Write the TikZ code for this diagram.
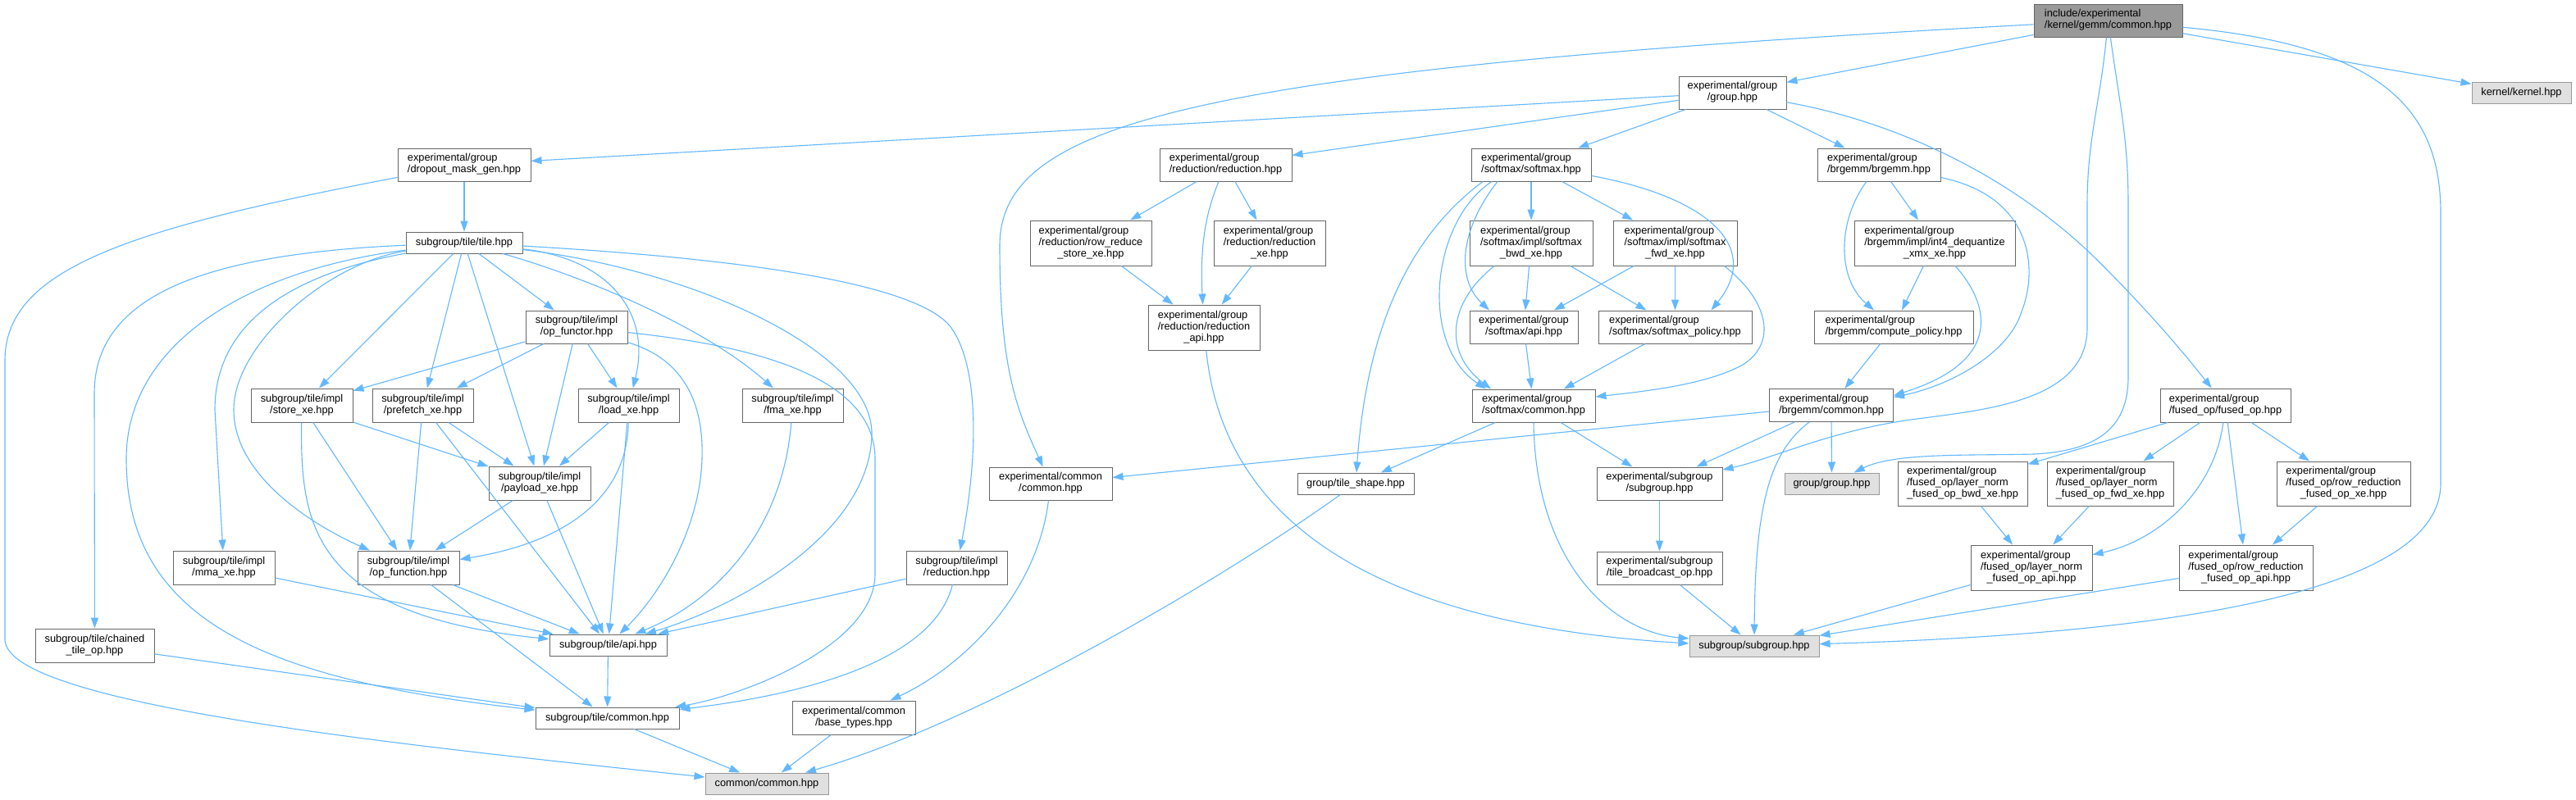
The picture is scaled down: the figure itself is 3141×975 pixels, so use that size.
\documentclass[tikz,border=0pt]{standalone}
\usepackage{fontspec}
\setmainfont{Liberation Sans}
\usetikzlibrary{arrows.meta}
\definecolor{bord}{HTML}{666666}
\definecolor{extbord}{HTML}{999999}
\definecolor{extfill}{HTML}{E0E0E0}
\definecolor{rootfill}{HTML}{999999}
\definecolor{edgec}{HTML}{63B8FF}
\newcommand{\twol}[2]{\begin{tabular}{@{}l@{}}#1\\\multicolumn{1}{@{}c@{}}{#2}\end{tabular}}
\newcommand{\thrl}[3]{\begin{tabular}{@{}l@{}}#1\\#2\\\multicolumn{1}{@{}c@{}}{#3}\end{tabular}}
\tikzset{
  nd/.style={draw=bord, fill=white, line width=1pt, inner sep=0pt,
    font=\fontsize{12.8}{14}\selectfont, align=center},
  ext/.style={nd, draw=extbord, fill=extfill},
  rootnd/.style={nd, fill=rootfill},
  e/.style={draw=edgec, line width=1.1pt, -{Triangle[length=13pt,width=9pt]}},
}
\begin{document}
\begin{tikzpicture}[x=1pt,y=-1pt]
\useasboundingbox[fill=white] (0,0) rectangle (3141,975);

% ---------- nodes ----------
\node[rootnd, minimum width=181pt, minimum height=40pt] (root) at (2570.5,25) {\twol{include/experimental}{/kernel/gemm/common.hpp}};
\node[ext, minimum width=121pt, minimum height=26pt] (kernel) at (3074.5,113) {kernel/kernel.hpp};
\node[nd, minimum width=131pt, minimum height=40pt] (group) at (2112.5,113) {\twol{experimental/group}{/group.hpp}};
\node[nd, minimum width=162pt, minimum height=40pt] (dropout) at (566,201) {\twol{experimental/group}{/dropout\_mask\_gen.hpp}};
\node[nd, minimum width=161pt, minimum height=40pt] (reduction) at (1494.5,201) {\twol{experimental/group}{/reduction/reduction.hpp}};
\node[nd, minimum width=146pt, minimum height=40pt] (softmax) at (1867,201) {\twol{experimental/group}{/softmax/softmax.hpp}};
\node[nd, minimum width=150pt, minimum height=40pt] (brgemm) at (2291,201) {\twol{experimental/group}{/brgemm/brgemm.hpp}};
\node[nd, minimum width=142pt, minimum height=26pt] (tile) at (566,296) {subgroup/tile/tile.hpp};
\node[nd, minimum width=148pt, minimum height=55pt] (rowreduce) at (1330,296.5) {\thrl{experimental/group}{/reduction/row\_reduce}{\_store\_xe.hpp}};
\node[nd, minimum width=136pt, minimum height=55pt] (reductionxe) at (1548,296.5) {\thrl{experimental/group}{/reduction/reduction}{\_xe.hpp}};
\node[nd, minimum width=150pt, minimum height=55pt] (bwd) at (1867,296.5) {\thrl{experimental/group}{/softmax/impl/softmax}{\_bwd\_xe.hpp}};
\node[nd, minimum width=151pt, minimum height=55pt] (fwd) at (2042.5,296.5) {\thrl{experimental/group}{/softmax/impl/softmax}{\_fwd\_xe.hpp}};
\node[nd, minimum width=196pt, minimum height=55pt] (int4) at (2359,296.5) {\thrl{experimental/group}{/brgemm/impl/int4\_dequantize}{\_xmx\_xe.hpp}};
\node[nd, minimum width=124pt, minimum height=40pt] (opfunctor) at (703,399) {\twol{subgroup/tile/impl}{/op\_functor.hpp}};
\node[nd, minimum width=136pt, minimum height=55pt] (redapi) at (1468,399.5) {\thrl{experimental/group}{/reduction/reduction}{\_api.hpp}};
\node[nd, minimum width=132pt, minimum height=40pt] (smapi) at (1858,399) {\twol{experimental/group}{/softmax/api.hpp}};
\node[nd, minimum width=187pt, minimum height=40pt] (smpolicy) at (2042.5,399) {\twol{experimental/group}{/softmax/softmax\_policy.hpp}};
\node[nd, minimum width=194pt, minimum height=40pt] (cpolicy) at (2309,399) {\twol{experimental/group}{/brgemm/compute\_policy.hpp}};
\node[nd, minimum width=124pt, minimum height=41pt] (store) at (368,494.5) {\twol{subgroup/tile/impl}{/store\_xe.hpp}};
\node[nd, minimum width=123pt, minimum height=41pt] (prefetch) at (515.5,494.5) {\twol{subgroup/tile/impl}{/prefetch\_xe.hpp}};
\node[nd, minimum width=123pt, minimum height=41pt] (load) at (766.5,494.5) {\twol{subgroup/tile/impl}{/load\_xe.hpp}};
\node[nd, minimum width=123pt, minimum height=41pt] (fma) at (966.5,494.5) {\twol{subgroup/tile/impl}{/fma\_xe.hpp}};
\node[nd, minimum width=150pt, minimum height=40pt] (smcommon) at (1870,495) {\twol{experimental/group}{/softmax/common.hpp}};
\node[nd, minimum width=151pt, minimum height=40pt] (brgcommon) at (2233,494.5) {\twol{experimental/group}{/brgemm/common.hpp}};
\node[nd, minimum width=159pt, minimum height=41pt] (fusedop) at (2713.5,494.5) {\twol{experimental/group}{/fused\_op/fused\_op.hpp}};
\node[nd, minimum width=150pt, minimum height=40pt] (expcommon) at (1281,590) {\twol{experimental/common}{/common.hpp}};
\node[nd, minimum width=142pt, minimum height=26pt] (tileshape) at (1653,590) {group/tile\_shape.hpp};
\node[nd, minimum width=153pt, minimum height=40pt] (expsubgroup) at (2023.5,590) {\twol{experimental/subgroup}{/subgroup.hpp}};
\node[ext, minimum width=115pt, minimum height=26pt] (groupgroup) at (2233.5,590) {group/group.hpp};
\node[nd, minimum width=158pt, minimum height=54pt] (lnbwd) at (2393,590) {\thrl{experimental/group}{/fused\_op/layer\_norm}{\_fused\_op\_bwd\_xe.hpp}};
\node[nd, minimum width=154pt, minimum height=54pt] (lnfwd) at (2573,590) {\thrl{experimental/group}{/fused\_op/layer\_norm}{\_fused\_op\_fwd\_xe.hpp}};
\node[nd, minimum width=163pt, minimum height=54pt] (rrxe) at (2857.5,590) {\thrl{experimental/group}{/fused\_op/row\_reduction}{\_fused\_op\_xe.hpp}};
\node[nd, minimum width=124pt, minimum height=41pt] (payload) at (658,589.5) {\twol{subgroup/tile/impl}{/payload\_xe.hpp}};
\node[nd, minimum width=124pt, minimum height=41pt] (opfunction) at (498,692.5) {\twol{subgroup/tile/impl}{/op\_function.hpp}};
\node[nd, minimum width=124pt, minimum height=41pt] (mma) at (273,692.5) {\twol{subgroup/tile/impl}{/mma\_xe.hpp}};
\node[nd, minimum width=123pt, minimum height=41pt] (tilered) at (1166.5,692.5) {\twol{subgroup/tile/impl}{/reduction.hpp}};
\node[nd, minimum width=153pt, minimum height=40pt] (tilebc) at (2023.5,693) {\twol{experimental/subgroup}{/tile\_broadcast\_op.hpp}};
\node[nd, minimum width=148pt, minimum height=55pt] (lnapi) at (2477,692.5) {\thrl{experimental/group}{/fused\_op/layer\_norm}{\_fused\_op\_api.hpp}};
\node[nd, minimum width=163pt, minimum height=55pt] (rrapi) at (2738.5,692.5) {\thrl{experimental/group}{/fused\_op/row\_reduction}{\_fused\_op\_api.hpp}};
\node[nd, minimum width=145pt, minimum height=41pt] (chained) at (115.5,787.5) {\twol{subgroup/tile/chained}{\_tile\_op.hpp}};
\node[nd, minimum width=143pt, minimum height=26pt] (api) at (741.5,787) {subgroup/tile/api.hpp};
\node[ext, minimum width=158pt, minimum height=26pt] (subgroup) at (2139,788) {subgroup/subgroup.hpp};
\node[nd, minimum width=175pt, minimum height=26pt] (tilecommon) at (740.5,876) {subgroup/tile/common.hpp};
\node[nd, minimum width=150pt, minimum height=41pt] (basetypes) at (1041,875.5) {\twol{experimental/common}{/base\_types.hpp}};
\node[ext, minimum width=150pt, minimum height=26pt] (commoncommon) at (935,956) {common/common.hpp};

% ---------- edges ----------
% root
\draw[e] (root) -- (group);
\draw[e] (root) -- (kernel);
\draw[e] (root) .. controls (1450,85) and (1219,150) .. (1219,300) .. controls (1219,450) and (1240,500) .. (expcommon);
\draw[e] (root) .. controls (2900,55) and (2976,130) .. (2976,260) -- (2976,590) .. controls (2976,700) and (2750,770) .. (subgroup);
\draw[e] (root) .. controls (2560,130) and (2545,170) .. (2545,250) -- (2545,400) .. controls (2545,490) and (2420,500) .. (2330,512) .. controls (2230,526) and (2160,560) .. (expsubgroup);
\draw[e] (root) .. controls (2585,130) and (2595,170) .. (2595,250) -- (2595,460) .. controls (2595,520) and (2560,550) .. (2480,554) .. controls (2400,556) and (2310,552) .. (groupgroup);
% group
\draw[e] (group) -- (dropout);
\draw[e] (group) -- (reduction);
\draw[e] (group) -- (softmax);
\draw[e] (group) -- (brgemm);
\draw[e] (group) .. controls (2320,150) and (2460,220) .. (2560,320) .. controls (2630,390) and (2670,440) .. (fusedop);
% dropout
\draw[e] (dropout) -- (tile);
\draw[e] (dropout) .. controls (150,280) and (6,330) .. (6,440) -- (6,780) .. controls (6,860) and (500,910) .. (commoncommon);
% tile
\draw[e] (tile) .. controls (250,310) and (115,360) .. (115,480) -- (chained);
\draw[e] (tile) .. controls (300,330) and (154,420) .. (154,560) .. controls (154,760) and (330,830) .. (tilecommon);
\draw[e] (tile) .. controls (380,330) and (262,380) .. (262,500) -- (mma);
\draw[e] (tile) .. controls (400,320) and (285,420) .. (285,500) .. controls (285,580) and (380,640) .. (opfunction);
\draw[e] (tile) -- (store);
\draw[e] (tile) -- (prefetch);
\draw[e] (tile) -- (payload);
\draw[e] (tile) -- (opfunctor);
\draw[e] (tile) .. controls (740,315) and (795,380) .. (load);
\draw[e] (tile) .. controls (720,340) and (860,400) .. (fma);
\draw[e] (tile) .. controls (850,330) and (1065,430) .. (1063,530) .. controls (1061,650) and (900,740) .. (api);
\draw[e] (tile) .. controls (900,315) and (1120,345) .. (1160,400) .. controls (1195,450) and (1192,560) .. (tilered);
% op_functor
\draw[e] (opfunctor) -- (store);
\draw[e] (opfunctor) -- (prefetch);
\draw[e] (opfunctor) -- (payload);
\draw[e] (opfunctor) -- (load);
\draw[e] (opfunctor) .. controls (840,440) and (858,500) .. (856,560) .. controls (853,650) and (800,730) .. (api);
\draw[e] (opfunctor) .. controls (950,425) and (1067,470) .. (1067,560) -- (1067,700) .. controls (1067,790) and (900,850) .. (tilecommon);
% store / prefetch / load / fma
\draw[e] (store) -- (payload);
\draw[e] (store) -- (opfunction);
\draw[e] (store) .. controls (366,640) and (380,750) .. (api);
\draw[e] (prefetch) -- (payload);
\draw[e] (prefetch) -- (opfunction);
\draw[e] (prefetch) -- (api);
\draw[e] (load) -- (payload);
\draw[e] (load) .. controls (765,600) and (700,660) .. (opfunction);
\draw[e] (load) -- (api);
\draw[e] (fma) .. controls (955,640) and (880,730) .. (api);
% payload / op_function / mma / chained / api
\draw[e] (payload) -- (opfunction);
\draw[e] (payload) -- (api);
\draw[e] (opfunction) -- (api);
\draw[e] (opfunction) -- (tilecommon);
\draw[e] (mma) -- (api);
\draw[e] (chained) -- (tilecommon);
\draw[e] (api) -- (tilecommon);
\draw[e] (tilecommon) -- (commoncommon);
\draw[e] (tilered) -- (api);
\draw[e] (tilered) .. controls (1140,800) and (1000,845) .. (tilecommon);
% reduction
\draw[e] (reduction) -- (rowreduce);
\draw[e] (reduction) -- (reductionxe);
\draw[e] (reduction) .. controls (1470,260) and (1463,300) .. (redapi);
\draw[e] (rowreduce) -- (redapi);
\draw[e] (reductionxe) -- (redapi);
\draw[e] (redapi) .. controls (1490,620) and (1650,760) .. ([yshift=3pt]subgroup.west);
% softmax
\draw[e] (softmax) -- (bwd);
\draw[e] (softmax) -- (fwd);
\draw[e] ([xshift=-41pt]softmax.south) .. controls (1780,280) and (1775,340) .. ([xshift=-42pt]smapi.north);
\draw[e] ([xshift=-48pt]softmax.south) .. controls (1745,270) and (1730,420) .. ([xshift=-58pt]smcommon.north);
\draw[e] ([xshift=-59pt]softmax.south) .. controls (1730,280) and (1668,380) .. (tileshape);
\draw[e] (softmax) .. controls (2080,240) and (2150,300) .. ([xshift=44pt]smpolicy.north);
\draw[e] (bwd) -- (smapi);
\draw[e] (bwd) -- (smpolicy);
\draw[e] ([xshift=-45pt]bwd.south) .. controls (1765,370) and (1760,430) .. ([xshift=-52pt]smcommon.north);
\draw[e] (fwd) -- (smapi);
\draw[e] (fwd) -- (smpolicy);
\draw[e] ([xshift=60pt]fwd.south) .. controls (2160,370) and (2165,420) .. (2125,445) .. controls (2080,470) and (2000,478) .. ([yshift=11pt]smcommon.east);
\draw[e] (smapi) -- (smcommon);
\draw[e] (smpolicy) -- (smcommon);
\draw[e] (smcommon) -- (tileshape);
\draw[e] (smcommon) -- (expsubgroup);
\draw[e] (smcommon.south) .. controls (1872,680) and (1960,770) .. ([yshift=9pt]subgroup.west);
\draw[e] (tileshape) .. controls (1500,700) and (1200,880) .. (commoncommon);
\draw[e] (expcommon) .. controls (1265,720) and (1180,810) .. (basetypes);
\draw[e] (basetypes) -- (commoncommon);
% brgemm
\draw[e] (brgemm) -- (int4);
\draw[e] (brgemm) .. controls (2240,270) and (2240,340) .. (cpolicy);
\draw[e] (brgemm) .. controls (2480,240) and (2485,330) .. (2465,380) .. controls (2450,430) and (2380,470) .. ([yshift=10pt]brgcommon.east);
\draw[e] (int4) -- (cpolicy);
\draw[e] (int4) .. controls (2425,370) and (2445,440) .. ([yshift=12pt]brgcommon.east);
\draw[e] (cpolicy) -- (brgcommon);
\draw[e] (brgcommon) -- (expcommon);
\draw[e] (brgcommon) -- (expsubgroup);
\draw[e] (brgcommon) -- (groupgroup);
\draw[e] (brgcommon) .. controls (2160,550) and (2140,610) .. (subgroup);
% fused_op
\draw[e] (fusedop) -- (lnbwd);
\draw[e] (fusedop) -- (lnfwd);
\draw[e] (fusedop) -- (rrxe);
\draw[e] (fusedop) .. controls (2700,600) and (2630,660) .. (lnapi);
\draw[e] (fusedop) -- (rrapi);
\draw[e] (lnbwd) -- (lnapi);
\draw[e] (lnfwd) -- (lnapi);
\draw[e] (rrxe) -- (rrapi);
\draw[e] (lnapi) -- (subgroup);
\draw[e] (rrapi) -- (subgroup);
% subgroup
\draw[e] (expsubgroup) -- (tilebc);
\draw[e] (tilebc) -- (subgroup);
\end{tikzpicture}
\end{document}
